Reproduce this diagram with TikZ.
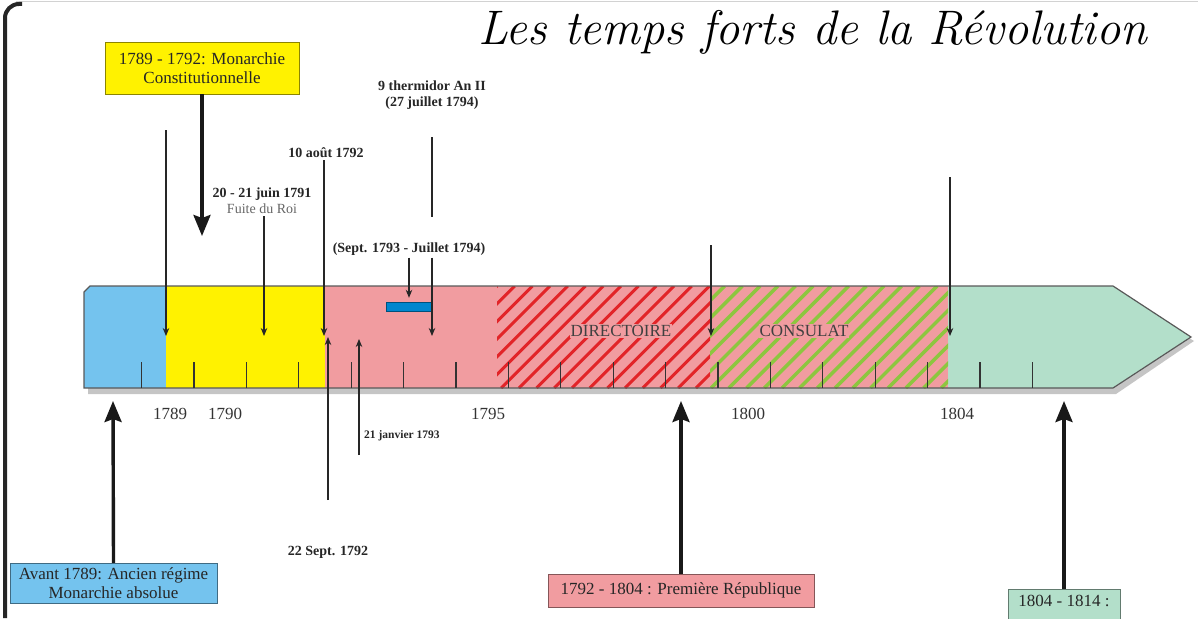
\documentclass[tikz,border=0pt]{standalone}
\usepackage{fontspec}
\newfontfamily\tnr{Liberation Serif}
\usetikzlibrary{arrows.meta,positioning}
\definecolor{bleuAR}{RGB}{116,195,238}
\definecolor{jaune}{RGB}{255,242,0}
\definecolor{rose}{RGB}{241,156,160}
\definecolor{vertEmp}{RGB}{179,223,202}
\definecolor{rouge}{RGB}{226,36,40}
\definecolor{vertCons}{RGB}{141,198,63}
\definecolor{bleuTerr}{RGB}{0,134,206}
\tikzset{>=stealth}
\begin{document}
\begin{tikzpicture}[x=1pt,y=-1pt,
  box/.style={draw=#1!55!black,fill=#1,font=\tnr\fontsize{17}{19}\selectfont,text=black!85,align=center,inner sep=2pt},
  datelab/.style={font=\tnr\bfseries\fontsize{14}{16}\selectfont,text=black!85,align=center,inner sep=2pt},
  yr/.style={font=\tnr\fontsize{17}{19}\selectfont,text=black!80},
  period/.style={font=\tnr\fontsize{17}{19}\selectfont,text=black!75,fill=rose,inner sep=1pt},
  evt/.style={-{Stealth[length=8pt,width=6.5pt]},line width=1.1pt,black!85},
  bigarrow/.style={-{Stealth[length=21pt,width=17pt,inset=3pt]},line width=3.4pt,black!90},
  tick/.style={line width=1.1pt,black!80}]
\useasboundingbox (0,0) rectangle (1198,618);
% cadre
\draw[gray!35,line width=1pt] (16,1.5) -- (1198,1.5);
\draw[black!85,line width=4pt] (5,618) -- (5,18) arc[start angle=180,end angle=270,radius=14] -- (22,4);
% titre
\node[font=\itshape\fontsize{48.5}{52}\selectfont,anchor=base] (titre) at (813,45) {Les temps forts de la Révolution};
% frise
\fill[black!45,opacity=0.5] (88,298) -- (1115,292) -- (1194,341) -- (1116,394) -- (88,394) -- cycle;
\fill[bleuAR] (84,292) -- (90,286) -- (166,286) -- (166,388) -- (84,388) -- cycle;
\fill[jaune] (166,286) rectangle (325,388);
\fill[rose] (325,286) rectangle (948,388);
\fill[vertEmp] (948,286) -- (1113,286) -- (1191,337) -- (1113,388) -- (948,388) -- cycle;
\begin{scope}
  \clip (497,286) rectangle (710,388);
  \foreach \s in {0,...,18}
    \draw[rouge,line width=3pt] ({395+\s*17.7},388) -- ++(102,-102);
\end{scope}
\begin{scope}
  \clip (710,286) rectangle (948,388);
  \foreach \s in {0,...,20}
    \draw[vertCons,line width=3.5pt] ({605+\s*17.7},388) -- ++(102,-102);
\end{scope}
\draw[black!65,line width=1.2pt] (84,292) -- (90,286) -- (1113,286) -- (1191,337) -- (1113,388) -- (84,388) -- cycle;
\foreach \i in {0,...,17}
  \draw[tick] ({141.6+52.4*\i},388) -- ++(0,-26);
\node[period] (direct) at (621,331) {DIRECTOIRE};
\node[period] (consul) at (804,331) {CONSULAT};
\node[draw=bleuTerr!60!black,fill=bleuTerr,minimum width=46pt,minimum height=9pt,inner sep=0pt] (terreur) at (409,306.5) {};
% annees
\foreach \a/\x in {1789/170,1790/225,1795/488,1800/748,1804/957}
  \node[yr] (y\a) at (\x,414) {\a};
% points sur la frise
\coordinate (b1789) at (166,336);
\coordinate (bjuin) at (264,336);
\coordinate (baout) at (324,336);
\coordinate (bsept) at (328,337);
\coordinate (bjanv) at (359,339);
\coordinate (btherm) at (432,336);
\coordinate (bbrum) at (711,336);
\coordinate (bsacre) at (950,336);
\coordinate (tavant) at (113,401);
\coordinate (trepub) at (681,401);
\coordinate (tempire) at (1064,401);
% regimes
\node[box=jaune,minimum width=194pt,minimum height=52pt] (monar) at (202,68) {1789 - 1792: Monarchie\\Constitutionnelle};
\coordinate (mfin) at (202,236);
\draw[bigarrow] (monar.south) -- (mfin);
\node[box=bleuAR,minimum width=207pt,minimum height=40pt] (avant) at (113.5,583) {Avant 1789: Ancien régime\\Monarchie absolue};
\draw[bigarrow] (avant.north) -- (tavant);
\node[box=rose,minimum width=266pt,minimum height=33pt] (repub) at (681,590.5) {1792 - 1804 : Première République};
\draw[bigarrow] (repub.north) -- (trepub);
\node[box=vertEmp,anchor=north,minimum width=112pt,text height=13pt,text depth=34pt,inner ysep=4pt] (empire) at (1064,589) {1804 - 1814 :};
\draw[bigarrow] (empire.north) -- (tempire);
% evenements
\coordinate (h1789) at (166,130);
\draw[evt] (h1789) -- (b1789);
\node[datelab] (juin) at (262,201) {20 - 21 juin 1791\\{\mdseries\color{black!60}Fuite du Roi}};
\draw[evt] (juin.south -| bjuin) -- (bjuin);
\node[datelab] (aout) at (326,153) {10 août 1792};
\draw[evt] (aout.south -| baout) -- (baout);
\node[datelab] (therm) at (432,95) {9 thermidor An II\\(27 juillet 1794)};
\coordinate (th1) at (432,137);
\coordinate (th2) at (432,217);
\draw[line width=1.1pt,black!85] (th1) -- (th2);
\node[datelab] (sept) at (409,249) {(Sept. 1793 - Juillet 1794)};
\draw[evt] (sept.south -| btherm) -- (btherm);
\draw[evt,shorten >=4pt] (sept.south -| terreur.north) -- (terreur.north);
\node[datelab] (sept92) at (328,552) {22 Sept. 1792};
\coordinate (s92bas) at (328,500);
\draw[evt] (s92bas) -- (bsept);
\node[datelab,anchor=west,font=\tnr\bfseries\fontsize{11.5}{13}\selectfont] (janv) at (362,436) {21 janvier 1793};
\coordinate (janvbas) at (359,455);
\draw[evt] (janvbas) -- (bjanv);
\coordinate (hbrum) at (711,245);
\draw[evt] (hbrum) -- (bbrum);
\coordinate (hsacre) at (950,177);
\draw[evt] (hsacre) -- (bsacre);
\end{tikzpicture}
\end{document}
